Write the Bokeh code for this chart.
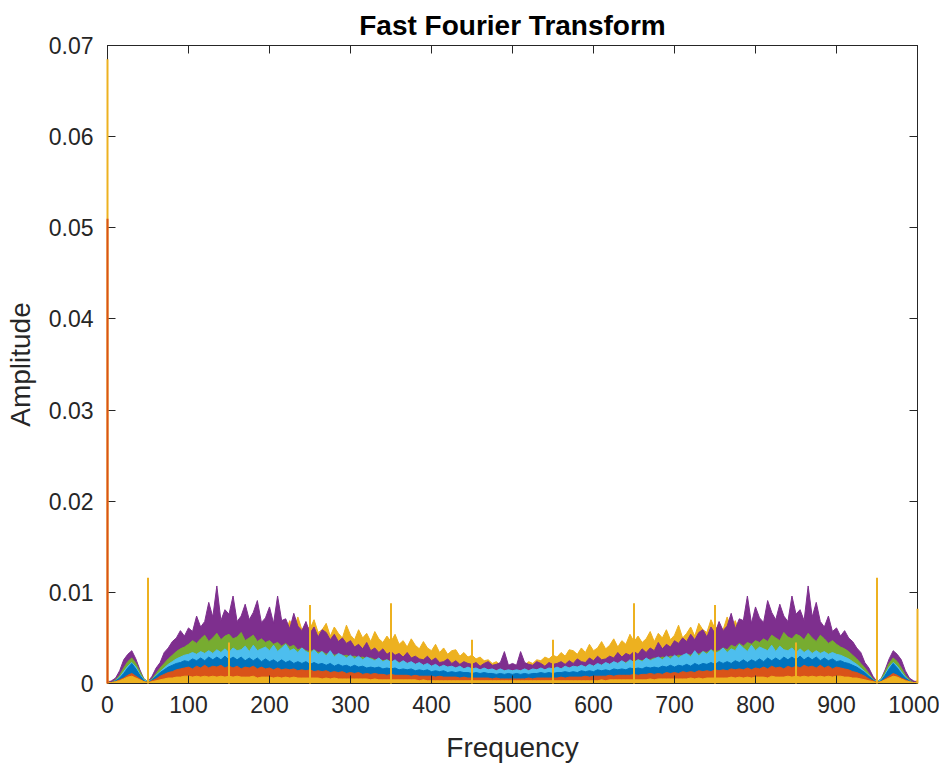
import numpy as np
from bokeh.plotting import figure
from bokeh.models import Range1d, LinearAxis, FixedTicker, CustomJSTickFormatter
from bokeh.embed import file_html
from bokeh.resources import INLINE

# ---------------- data ----------------
# frequency grid of the one-sided half (Hz); the two-sided FFT mirrors about 500 Hz
freq_half = list(range(0, 505, 5))

# amplitudes in units of 1e-3, at freq_half (0, 5, ..., 500 Hz)
yellow_hi = [0.3, 0.2, 0.4, 0.6, 0.9, 1.1, 1.2, 1.0, 0.7, 0.3,
             0.2, 0.4, 0.9, 1.4, 1.9, 2.4, 2.9, 3.3, 3.6, 3.9,
             4.1, 4.6, 4.3, 4.9, 4.5, 5.2, 4.7, 5.5, 4.9, 5.6,
             5.0, 5.7, 5.2, 5.9, 5.3, 6.1, 5.4, 6.3, 5.5, 6.2,
             5.6, 6.0, 5.8, 6.6, 5.7, 6.9, 6.0, 7.3, 5.9, 6.4,
             6.0, 7.0, 5.6, 5.9, 6.6, 5.2, 6.2, 5.5, 5.0, 6.4,
             5.3, 4.8, 5.9, 5.0, 5.5, 4.6, 5.7, 4.9, 4.5, 5.2,
             4.6, 5.4, 4.3, 4.7, 4.0, 4.9, 4.2, 3.8, 4.6, 3.9,
             3.6, 4.3, 3.4, 3.9, 3.2, 3.6, 3.7, 3.0, 3.4, 2.9,
             3.1, 2.7, 2.9, 2.5, 2.6, 2.2, 2.4, 2.0, 1.8, 2.0,
             1.9]
purple = [0.1, 0.3, 0.6, 1.4, 2.6, 3.2, 3.6, 2.7, 1.5, 0.5,
          0.2, 0.8, 1.7, 2.3, 3.4, 3.9, 4.6, 5.0, 5.8, 5.2,
          6.1, 5.7, 7.4, 6.2, 6.8, 8.9, 7.3, 10.7, 6.9, 8.1,
          7.6, 9.6, 6.8, 7.4, 8.7, 7.0, 7.8, 9.1, 6.7, 7.2,
          8.4, 6.6, 9.6, 6.9, 7.1, 6.0, 7.7, 6.3, 5.8, 6.8,
          5.5, 6.2, 5.1, 5.9, 5.6, 4.8, 5.4, 4.6, 5.0, 4.4,
          4.7, 4.0, 4.3, 3.8, 4.5, 3.6, 3.9, 3.4, 3.8, 3.2,
          3.5, 3.1, 3.3, 2.9, 3.4, 2.8, 3.0, 2.7, 2.6, 3.0,
          2.5, 2.8, 2.3, 2.4, 2.7, 2.2, 2.5, 2.1, 2.4, 2.2,
          2.1, 2.3, 1.9, 2.2, 2.4, 2.0, 2.1, 2.3, 3.5, 2.0,
          2.2]
green = [0.1, 0.1, 0.4, 0.9, 1.7, 2.4, 2.8, 2.2, 1.3, 0.5,
         0.2, 0.5, 1.1, 1.7, 2.2, 2.7, 3.1, 3.5, 3.8, 4.0,
         4.3, 4.7, 4.4, 4.9, 5.3, 4.6, 5.0, 5.5, 4.8, 5.2,
         5.4, 4.9, 5.1, 5.6, 4.7, 5.0, 5.3, 4.6, 4.9, 4.5,
         4.7, 4.3, 4.5, 4.1, 4.4, 4.0, 4.2, 3.7, 3.9, 3.6,
         3.5, 3.7, 3.4, 3.5, 3.2, 3.4, 3.1, 3.2, 3.0, 3.1,
         2.9, 3.0, 2.8, 2.9, 2.7, 2.8, 2.6, 2.7, 2.5, 2.6,
         2.4, 2.5, 2.3, 2.4, 2.2, 2.3, 2.1, 2.2, 2.0, 2.1,
         1.9, 2.0, 1.8, 1.9, 1.8, 1.8, 1.7, 1.8, 1.6, 1.7,
         1.6, 1.6, 1.5, 1.6, 1.5, 1.5, 1.4, 1.5, 1.4, 1.4,
         1.4]
light_blue = [0.1, 0.1, 0.3, 0.7, 1.3, 1.9, 2.3, 1.8, 1.0, 0.4,
              0.2, 0.4, 0.9, 1.3, 1.7, 2.1, 2.4, 2.7, 2.9, 3.1,
              3.2, 3.4, 3.2, 3.5, 3.3, 3.6, 3.3, 3.7, 3.4, 3.8,
              3.4, 3.9, 3.6, 3.7, 4.1, 3.5, 4.2, 3.6, 3.8, 4.0,
              3.6, 4.2, 3.5, 3.9, 4.3, 3.6, 3.8, 3.4, 3.9, 3.5,
              3.3, 3.7, 3.2, 3.5, 3.0, 3.6, 2.9, 3.3, 3.1, 2.8,
              3.1, 2.7, 3.0, 2.6, 2.9, 2.7, 2.5, 2.8, 2.4, 2.6,
              2.3, 2.6, 2.2, 2.5, 2.2, 2.4, 2.1, 2.3, 2.0, 2.2,
              1.9, 2.1, 1.8, 2.0, 1.8, 1.9, 1.7, 1.9, 1.6, 1.8,
              1.6, 1.7, 1.5, 1.7, 1.5, 1.6, 1.4, 1.6, 1.4, 1.5,
              1.4]
dark_red = [0.1, 0.1, 0.2, 0.4, 0.7, 1.0, 1.2, 0.9, 0.6, 0.2,
            0.1, 0.3, 0.6, 0.9, 1.1, 1.3, 1.5, 1.7, 1.8, 2.0,
            2.1, 2.0, 2.3, 2.1, 2.4, 2.2, 2.5, 2.2, 2.4, 2.3,
            2.5, 2.2, 2.4, 2.3, 2.5, 2.2, 2.4, 2.2, 2.3, 2.1,
            2.3, 2.1, 2.2, 2.0, 2.2, 2.0, 2.1, 1.9, 2.0, 1.9,
            2.0, 1.8, 1.9, 1.8, 1.9, 1.7, 1.8, 1.7, 1.7, 1.6,
            1.7, 1.5, 1.6, 1.5, 1.5, 1.4, 1.5, 1.4, 1.4, 1.3,
            1.4, 1.3, 1.3, 1.2, 1.3, 1.2, 1.2, 1.1, 1.2, 1.1,
            1.1, 1.0, 1.1, 1.0, 1.0, 0.9, 1.0, 0.9, 0.9, 0.9,
            0.9, 0.8, 0.9, 0.8, 0.8, 0.8, 0.8, 0.7, 0.8, 0.7,
            0.7]
blue = [0.1, 0.1, 0.3, 0.6, 1.1, 1.7, 2.2, 1.6, 0.9, 0.3,
        0.1, 0.4, 0.8, 1.2, 1.5, 1.8, 2.0, 2.2, 2.3, 2.5,
        2.4, 2.7, 2.5, 2.8, 2.5, 2.9, 2.6, 2.9, 2.6, 3.0,
        2.6, 2.9, 2.6, 2.9, 2.5, 2.8, 2.5, 2.8, 2.4, 2.7,
        2.4, 2.6, 2.3, 2.6, 2.3, 2.5, 2.2, 2.4, 2.2, 2.4,
        2.1, 2.3, 2.1, 2.2, 2.0, 2.2, 1.9, 2.1, 1.9, 2.0,
        1.8, 2.0, 1.8, 1.9, 1.7, 1.8, 1.7, 1.8, 1.6, 1.7,
        1.6, 1.7, 1.5, 1.6, 1.5, 1.6, 1.4, 1.5, 1.4, 1.5,
        1.3, 1.4, 1.3, 1.4, 1.2, 1.3, 1.2, 1.3, 1.2, 1.2,
        1.1, 1.2, 1.1, 1.2, 1.1, 1.1, 1.0, 1.1, 1.0, 1.1,
        1.0]
orange = [0.1, 0.1, 0.2, 0.4, 0.6, 0.9, 1.1, 0.8, 0.5, 0.2,
          0.1, 0.3, 0.5, 0.8, 1.0, 1.2, 1.3, 1.5, 1.6, 1.7,
          1.8, 1.6, 1.9, 1.7, 2.0, 1.7, 1.9, 1.8, 2.0, 1.7,
          1.9, 1.7, 1.9, 1.6, 1.8, 1.7, 1.9, 1.6, 1.8, 1.6,
          1.7, 1.5, 1.7, 1.5, 1.6, 1.5, 1.6, 1.4, 1.5, 1.4,
          1.5, 1.3, 1.4, 1.3, 1.4, 1.2, 1.3, 1.2, 1.3, 1.1,
          1.2, 1.1, 1.2, 1.0, 1.1, 1.0, 1.1, 1.0, 1.0, 0.9,
          1.0, 0.9, 0.9, 0.9, 0.9, 0.8, 0.9, 0.8, 0.8, 0.8,
          0.8, 0.7, 0.8, 0.7, 0.7, 0.7, 0.7, 0.6, 0.7, 0.6,
          0.6, 0.6, 0.6, 0.6, 0.6, 0.5, 0.6, 0.5, 0.5, 0.5,
          0.5]
yellow_lo = [0.1, 0.1, 0.2, 0.3, 0.5, 0.7, 0.8, 0.6, 0.4, 0.2,
             0.1, 0.2, 0.3, 0.4, 0.5, 0.6, 0.6, 0.7, 0.7, 0.8,
             0.8, 0.7, 0.8, 0.7, 0.8, 0.7, 0.8, 0.7, 0.8, 0.7,
             0.8, 0.7, 0.8, 0.7, 0.7, 0.7, 0.8, 0.6, 0.7, 0.7,
             0.7, 0.6, 0.7, 0.6, 0.7, 0.6, 0.7, 0.6, 0.6, 0.6,
             0.6, 0.6, 0.6, 0.5, 0.6, 0.5, 0.6, 0.5, 0.5, 0.5,
             0.5, 0.5, 0.5, 0.5, 0.5, 0.4, 0.5, 0.4, 0.4, 0.4,
             0.4, 0.4, 0.4, 0.4, 0.4, 0.4, 0.4, 0.3, 0.4, 0.3,
             0.3, 0.3, 0.3, 0.3, 0.3, 0.3, 0.3, 0.3, 0.3, 0.3,
             0.3, 0.3, 0.3, 0.3, 0.3, 0.3, 0.3, 0.3, 0.3, 0.3,
             0.3]

# narrow spectral lines (Hz, amplitude in 1e-3)
yellow_spike_freqs = [0, 50, 150, 250, 350, 450, 550, 650, 750, 850, 950, 1000]
yellow_spike_amps = [68.5, 11.6, 4.5, 8.6, 8.8, 4.8, 4.8, 8.8, 8.6, 4.5, 11.6, 8.2]
orange_spike_freqs = [0]
orange_spike_amps = [51.0]

SCALE = 1e-3
x_ticks = [0, 100, 200, 300, 400, 500, 600, 700, 800, 900, 1000]
y_ticks = [0, 0.01, 0.02, 0.03, 0.04, 0.05, 0.06, 0.07]

# ---------------- figure ----------------
FONT = "Liberation Sans"
TXT = "#262626"

p = figure(width=939, height=765, output_backend="svg", toolbar_location=None,
           x_range=Range1d(0, 1000), y_range=Range1d(0, 0.07),
           min_border_left=107, min_border_right=22, min_border_top=45,
           min_border_bottom=78)
p.title.text = "Fast Fourier Transform"
p.title.text_font = FONT
p.title.text_font_size = "28px"
p.title.text_font_style = "bold"
p.title.text_color = "#000000"
p.title.align = "center"

p.xgrid.visible = False
p.ygrid.visible = False
p.outline_line_color = TXT
p.background_fill_color = "white"
p.border_fill_color = "white"

freq_full = freq_half + [1000 - f for f in reversed(freq_half[:-1])]


def full(vals):
    half = np.array(vals) * SCALE
    return np.concatenate([half, half[-2::-1]])


series = [
    (yellow_hi, "#EDB120"),
    (purple, "#7E2F8E"),
    (green, "#77AC30"),
    (light_blue, "#4DBEEE"),
    (dark_red, "#A2142F"),
    (blue, "#0072BD"),
    (orange, "#D95319"),
    (yellow_lo, "#EDB120"),
]
for vals, col in series:
    y = full(vals)
    p.varea(x=freq_full, y1=0, y2=y, fill_color=col, fill_alpha=1.0)
    p.line(freq_full, y, line_color=col, line_width=1)

ys = np.array(yellow_spike_amps) * SCALE
r1 = p.segment(x0=yellow_spike_freqs, y0=0, x1=yellow_spike_freqs, y1=ys,
               line_color="#EDB120", line_width=2)
os_ = np.array(orange_spike_amps) * SCALE
r2 = p.segment(x0=orange_spike_freqs, y0=0, x1=orange_spike_freqs, y1=os_,
               line_color="#D95319", line_width=2)
r1.level = "overlay"
r2.level = "overlay"

# axes styling
for ax in (p.xaxis[0], p.yaxis[0]):
    ax.axis_line_color = TXT
    ax.major_tick_line_color = TXT
    ax.major_tick_in = 8
    ax.major_tick_out = 0
    ax.minor_tick_line_color = None
    ax.major_label_text_font = FONT
    ax.major_label_text_font_size = "23px"
    ax.major_label_text_color = TXT
    ax.axis_label_text_font = FONT
    ax.axis_label_text_font_size = "28px"
    ax.axis_label_text_font_style = "normal"
    ax.axis_label_text_color = TXT

p.xaxis[0].ticker = FixedTicker(ticks=x_ticks)
p.yaxis[0].ticker = FixedTicker(ticks=y_ticks)
p.yaxis[0].formatter = CustomJSTickFormatter(code="return tick == 0 ? '0' : tick.toFixed(2);")
p.xaxis[0].axis_label = "Frequency"
p.yaxis[0].axis_label = "Amplitude"
p.xaxis[0].major_label_standoff = 12
p.yaxis[0].major_label_standoff = 14
p.xaxis[0].axis_label_standoff = 16
p.yaxis[0].axis_label_standoff = 10

blank = CustomJSTickFormatter(code="return '';")
ax_r = LinearAxis(ticker=FixedTicker(ticks=y_ticks), formatter=blank,
                  major_label_text_color=None, major_label_text_font_size="1px",
                  major_label_standoff=0,
                  major_tick_in=8, major_tick_out=0, minor_tick_line_color=None,
                  axis_line_color=TXT, major_tick_line_color=TXT)
ax_t = LinearAxis(ticker=FixedTicker(ticks=x_ticks), formatter=blank,
                  major_label_text_color=None, major_label_text_font_size="1px",
                  major_label_standoff=0,
                  major_tick_in=8, major_tick_out=0, minor_tick_line_color=None,
                  axis_line_color=TXT, major_tick_line_color=TXT)
p.add_layout(ax_r, "right")
p.add_layout(ax_t, "above")

open("out.html", "w").write(file_html(p, INLINE))
